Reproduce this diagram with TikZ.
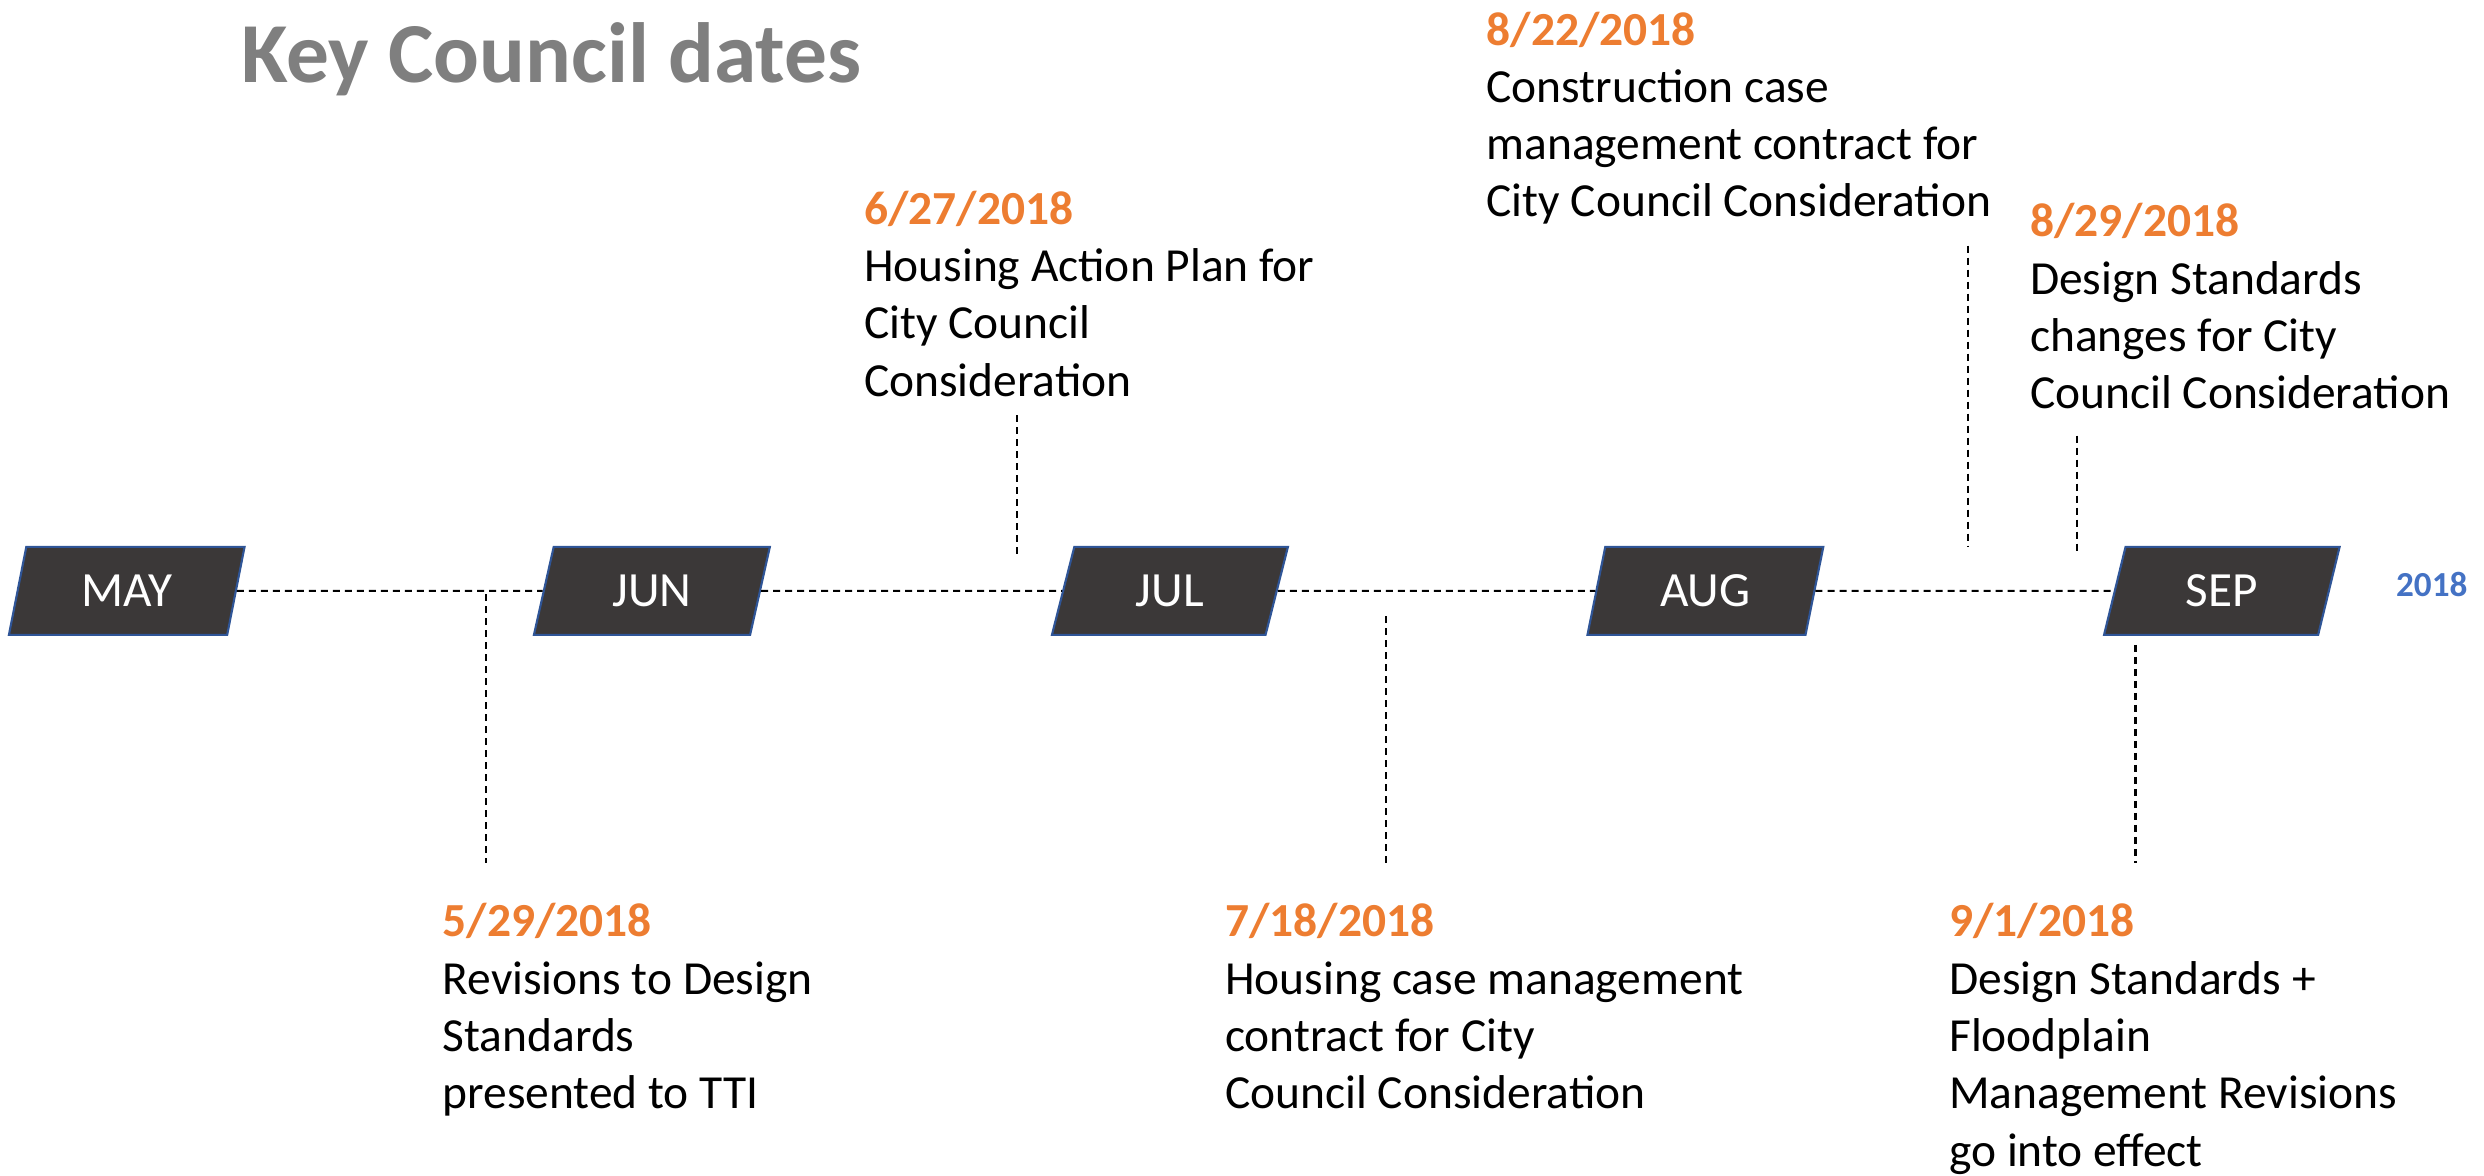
\documentclass[tikz,border=0pt]{standalone}
\usepackage{fontspec}
\setmainfont{Carlito}
\usetikzlibrary{shapes.geometric}
\definecolor{monthfill}{HTML}{3B3838}
\definecolor{monthedge}{HTML}{2F5597}
\definecolor{dateorange}{HTML}{ED7D31}
\definecolor{yearblue}{HTML}{4472C4}
\definecolor{titlegray}{HTML}{7F7F7F}
\newcommand{\evdate}[1]{{\color{dateorange}\bfseries #1}}
\begin{document}
\begin{tikzpicture}[x=0.01584cm,y=-0.01584cm,
  month/.style={trapezium,trapezium left angle=76,trapezium right angle=104,trapezium stretches=true,
    minimum width=2.36cm,minimum height=0.88cm,inner sep=0pt,fill=monthfill,draw=monthedge,
    line width=0.6pt,text=white,font=\fontsize{14}{16}\selectfont},
  timeline/.style={dash pattern=on 0.7mm off 0.5mm,line width=0.6pt},
  event/.style={anchor=north west,inner sep=0pt,align=left,font=\fontsize{13.5}{16.3}\selectfont}]
\useasboundingbox (0,0) rectangle (1568,742);

\node[anchor=base west,inner sep=0pt,text=titlegray,font=\fontsize{24.3}{29}\selectfont\bfseries] (title) at (152,52) {Key Council dates};

\node[month] (may) at (80,373) {MAY};
\node[month] (jun) at (411.5,373) {JUN};
\node[month] (jul) at (738.5,373) {JUL};
\node[month] (aug) at (1076.5,373) {AUG};
\node[month] (sep) at (1402.5,373) {SEP};
\node[text=yearblue,inner sep=0pt,font=\fontsize{10}{12}\selectfont\bfseries] (year) at (1535,369) {2018};

\draw[timeline] (may) -- (jun);
\draw[timeline] (jun) -- (jul);
\draw[timeline] (jul) -- (aug);
\draw[timeline] (aug) -- (sep);

\coordinate (t529a) at (307,375);
\coordinate (t529b) at (307,545);
\coordinate (t627a) at (642,262);
\coordinate (t627b) at (642,350);
\coordinate (t718a) at (875,389);
\coordinate (t718b) at (875,545);
\coordinate (t822a) at (1242,155);
\coordinate (t822b) at (1242,345);
\coordinate (t829a) at (1311,275);
\coordinate (t829b) at (1311,348);
\coordinate (t901a) at (1348,407);
\coordinate (t901b) at (1348,545);
\draw[timeline] (t529a) -- (t529b);
\draw[timeline] (t627a) -- (t627b);
\draw[timeline] (t718a) -- (t718b);
\draw[timeline] (t822a) -- (t822b);
\draw[timeline] (t829a) -- (t829b);
\draw[timeline] (t901a) -- (t901b);

\node[event] (e529) at (279,570) {\evdate{5/29/2018}\\Revisions to Design\\Standards\\presented to TTI};
\node[event] (e627) at (545,120) {\evdate{6/27/2018}\\Housing Action Plan for\\City Council\\Consideration};
\node[event] (e718) at (773,570) {\evdate{7/18/2018}\\Housing case management\\contract for City\\Council Consideration};
\node[event] (e822) at (938,7) {\evdate{8/22/2018}\\Construction case\\management contract for\\City Council Consideration};
\node[event] (e829) at (1281,128) {\evdate{8/29/2018}\\Design Standards\\changes for City\\Council Consideration};
\node[event] (e901) at (1230,570) {\evdate{9/1/2018}\\Design Standards +\\Floodplain\\Management Revisions\\go into effect};
\end{tikzpicture}
\end{document}
